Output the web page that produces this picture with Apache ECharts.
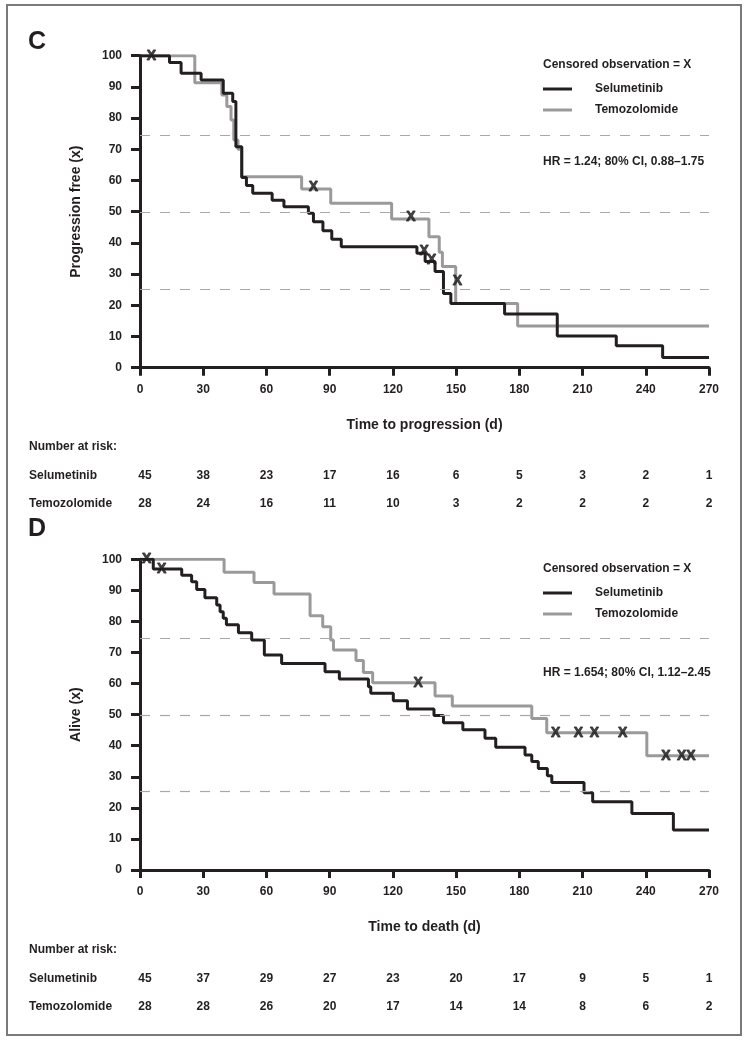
<!DOCTYPE html>
<html><head><meta charset="utf-8">
<script src="https://cdn.jsdelivr.net/npm/echarts@6/dist/echarts.min.js"></script>
<style>html,body{margin:0;padding:0;background:#fff}#c{width:749px;height:1041px}</style>
</head><body><div id="c"></div>
<script>
// ---------- DATA ----------
const timeTicks = [0, 30, 60, 90, 120, 150, 180, 210, 240, 270];
const refLines = [74.5, 49.7, 25.3];

// Panel C: progression-free (%), step points [day, value]
const progSelumetinib = [[0,100],[14,97.8],[19.5,94.4],[29,92.2],[39.5,88],[44,85.3],[45.5,70.8],[48.3,61],[50.5,58.4],[53.5,55.9],[62.7,53.7],[68.3,51.6],[79.9,49.5],[82.3,46.8],[86.8,43.9],[91,41.2],[95.5,38.8],[131.4,36.7],[135.3,34],[140,30.8],[144,23.8],[147.5,20.6],[173,17.2],[198,10.2],[226,7],[248,3.3],[270,3.3]];
const progTemozolomide = [[0,100],[26,91.3],[38.8,87.4],[41.2,83.7],[43.2,79.4],[44.5,73],[46.5,70],[48.2,61.2],[76.7,57.3],[90.5,52.7],[119.4,47.7],[137.1,42],[142,37],[143.5,32.4],[149.8,20.6],[179.2,13.4],[270,13.4]];
const progCensSelumetinib = [[5.4,100],[134.8,37.2],[138.4,34.5]];
const progCensTemozolomide = [[82.3,58],[128.5,48.2],[150.6,27.6]];
const progRiskSelumetinib = [45, 38, 23, 17, 16, 6, 5, 3, 2, 1];
const progRiskTemozolomide = [28, 24, 16, 11, 10, 3, 2, 2, 2, 2];

// Panel D: alive (%)
const osSelumetinib = [[0,100],[6.3,96.9],[19.8,94.9],[24.5,92.8],[26.9,90.3],[30.8,87.6],[36.4,85.3],[38,83.1],[39.5,81],[41,78.9],[46.7,76.4],[53,74],[59,69.2],[67.2,66.5],[87.8,63.8],[94.6,61.5],[108.4,59],[109.5,56.9],[120.2,54.5],[126.9,51.8],[139.5,49.7],[144,47.4],[153.2,45.1],[163.7,42.4],[168.8,39.5],[182.7,37],[185.9,34.9],[189,32.7],[193.3,30.3],[195.4,28.2],[210.7,24.9],[214.8,22],[233.4,18.2],[253.1,12.9],[270,12.9]];
const osTemozolomide = [[0,100],[39.9,95.8],[54.1,92.5],[63.6,88.8],[80.7,81.8],[86.7,78.3],[90.5,74],[91.8,70.8],[102.5,67.4],[106,63.6],[110.4,60.3],[140,56],[148.2,52.8],[185.9,48.8],[193,44.2],[240.5,36.8],[270,36.8]];
const osCensSelumetinib = [[3.2,100],[10.3,96.9]];
const osCensTemozolomide = [[132,60.3],[197.3,44.2],[208,44.2],[215.6,44.2],[229,44.2],[249.5,36.8],[257,36.8],[261.4,36.8]];
const osRiskSelumetinib = [45, 37, 29, 27, 23, 20, 17, 9, 5, 1];
const osRiskTemozolomide = [28, 28, 26, 20, 17, 14, 14, 8, 6, 2];

// ---------- STYLE ----------
const FONT = 'Liberation Sans, Arial, sans-serif';
const INK = '#231f20';
const GRAY = '#9a9a9a';

const chart = echarts.init(document.getElementById('c'), null, {renderer: 'canvas'});

function xAxisCfg(gi, name) {
  return {
    type: 'value', gridIndex: gi, min: 0, max: 270, interval: 30,
    axisLine: {lineStyle: {color: INK, width: 3}},
    axisTick: {length: 8, lineStyle: {color: INK, width: 3}},
    axisLabel: {margin: 16, color: INK, fontSize: 12, fontWeight: 'bold', fontFamily: FONT},
    splitLine: {show: false},
    name: name, nameLocation: 'middle', nameGap: 50,
    nameTextStyle: {color: INK, fontSize: 14, fontWeight: 'bold', fontFamily: FONT}
  };
}
function yAxisCfg(gi, name) {
  return {
    type: 'value', gridIndex: gi, min: 0, max: 100, interval: 10,
    axisLine: {show: true, lineStyle: {color: INK, width: 3}},
    axisTick: {show: true, length: 9, lineStyle: {color: INK, width: 3}},
    axisLabel: {margin: 18, color: INK, fontSize: 12, fontWeight: 'bold', fontFamily: FONT},
    splitLine: {show: false},
    name: name, nameLocation: 'middle', nameGap: 57, nameRotate: 90,
    nameTextStyle: {color: INK, fontSize: 14, fontWeight: 'bold', fontFamily: FONT}
  };
}
function curve(name, data, color, gi, withRef) {
  const s = {
    type: 'line', name: name, data: data, step: 'end', xAxisIndex: gi, yAxisIndex: gi,
    showSymbol: false, symbol: 'none', lineStyle: {color: color, width: 3}, itemStyle: {color: color},
    animation: false, silent: true, z: 3
  };
  if (withRef) {
    s.markLine = {
      silent: true, symbol: ['none', 'none'], label: {show: false},
      lineStyle: {color: '#a8a8a8', width: 1.2, type: [10, 10]},
      data: refLines.map(v => ({yAxis: v})), animation: false
    };
  }
  return s;
}
function censors(data, gi) {
  return {
    type: 'scatter', data: data, xAxisIndex: gi, yAxisIndex: gi,
    symbolSize: 1, itemStyle: {color: 'rgba(0,0,0,0)'}, silent: true, animation: false, z: 5,
    label: {show: true, position: 'inside', formatter: 'X', color: INK, fontSize: 14, fontWeight: 'bold', fontFamily: FONT,
            textBorderColor: INK, textBorderWidth: 1}
  };
}

const option = {
  backgroundColor: '#fff',
  animation: false,
  grid: [
    {left: 140, top: 55.7, width: 569, height: 312},
    {left: 140, top: 559.3, width: 569, height: 310.7}
  ],
  xAxis: [xAxisCfg(0, 'Time to progression (d)'), xAxisCfg(1, 'Time to death (d)')],
  yAxis: [yAxisCfg(0, 'Progression free (x)'), yAxisCfg(1, 'Alive (x)')],
  series: [
    curve('Temozolomide', progTemozolomide, GRAY, 0, true),
    curve('Selumetinib', progSelumetinib, INK, 0, false),
    censors(progCensTemozolomide, 0),
    censors(progCensSelumetinib, 0),
    curve('Temozolomide', osTemozolomide, GRAY, 1, true),
    curve('Selumetinib', osSelumetinib, INK, 1, false),
    censors(osCensTemozolomide, 1),
    censors(osCensSelumetinib, 1)
  ]
};
chart.setOption(option);

// ---------- annotations (legend, HR, number at risk) ----------
const txt = (x, y, text, opts) => Object.assign({
  type: 'text', x: x, y: y, silent: true,
  style: Object.assign({text: text, fill: INK, font: 'bold 12px ' + FONT, textVerticalAlign: 'middle', textAlign: 'left'}, (opts || {}))
});
const seg = (x1, x2, y, color) => ({type: 'line', silent: true, shape: {x1: x1, y1: y, x2: x2, y2: y}, style: {stroke: color, lineWidth: 3}});

const g = [];
g.push({type: 'rect', silent: true, shape: {x: 7, y: 5, width: 734, height: 1030}, style: {fill: 'none', stroke: '#7a7a7a', lineWidth: 2}});

function panel(gi, letter, letterY, legY, hrY, hrText, riskY, riskSel, riskTem) {
  g.push(txt(37, letterY, letter, {font: 'bold 25px ' + FONT, textAlign: 'center'}));
  g.push(txt(543, legY, 'Censored observation = X'));
  g.push(seg(543, 572, legY + 24, INK));
  g.push(txt(595, legY + 24, 'Selumetinib'));
  g.push(seg(543, 572, legY + 45, GRAY));
  g.push(txt(595, legY + 45, 'Temozolomide'));
  g.push(txt(543, hrY, hrText));
  g.push(txt(29, riskY, 'Number at risk:'));
  g.push(txt(29, riskY + 29, 'Selumetinib'));
  g.push(txt(29, riskY + 57, 'Temozolomide'));
  timeTicks.forEach((t, i) => {
    const px = chart.convertToPixel({xAxisIndex: gi}, t);
    g.push(txt(px + (t === 0 ? 5 : 0), riskY + 29, String(riskSel[i]), {textAlign: 'center'}));
    g.push(txt(px + (t === 0 ? 5 : 0), riskY + 57, String(riskTem[i]), {textAlign: 'center'}));
  });
}
panel(0, 'C', 42, 65, 162, 'HR = 1.24; 80% CI, 0.88\u20131.75', 447, progRiskSelumetinib, progRiskTemozolomide);
panel(1, 'D', 529, 569, 673, 'HR = 1.654; 80% CI, 1.12\u20132.45', 950, osRiskSelumetinib, osRiskTemozolomide);

chart.setOption({graphic: {elements: g}});
</script>
</body></html>
